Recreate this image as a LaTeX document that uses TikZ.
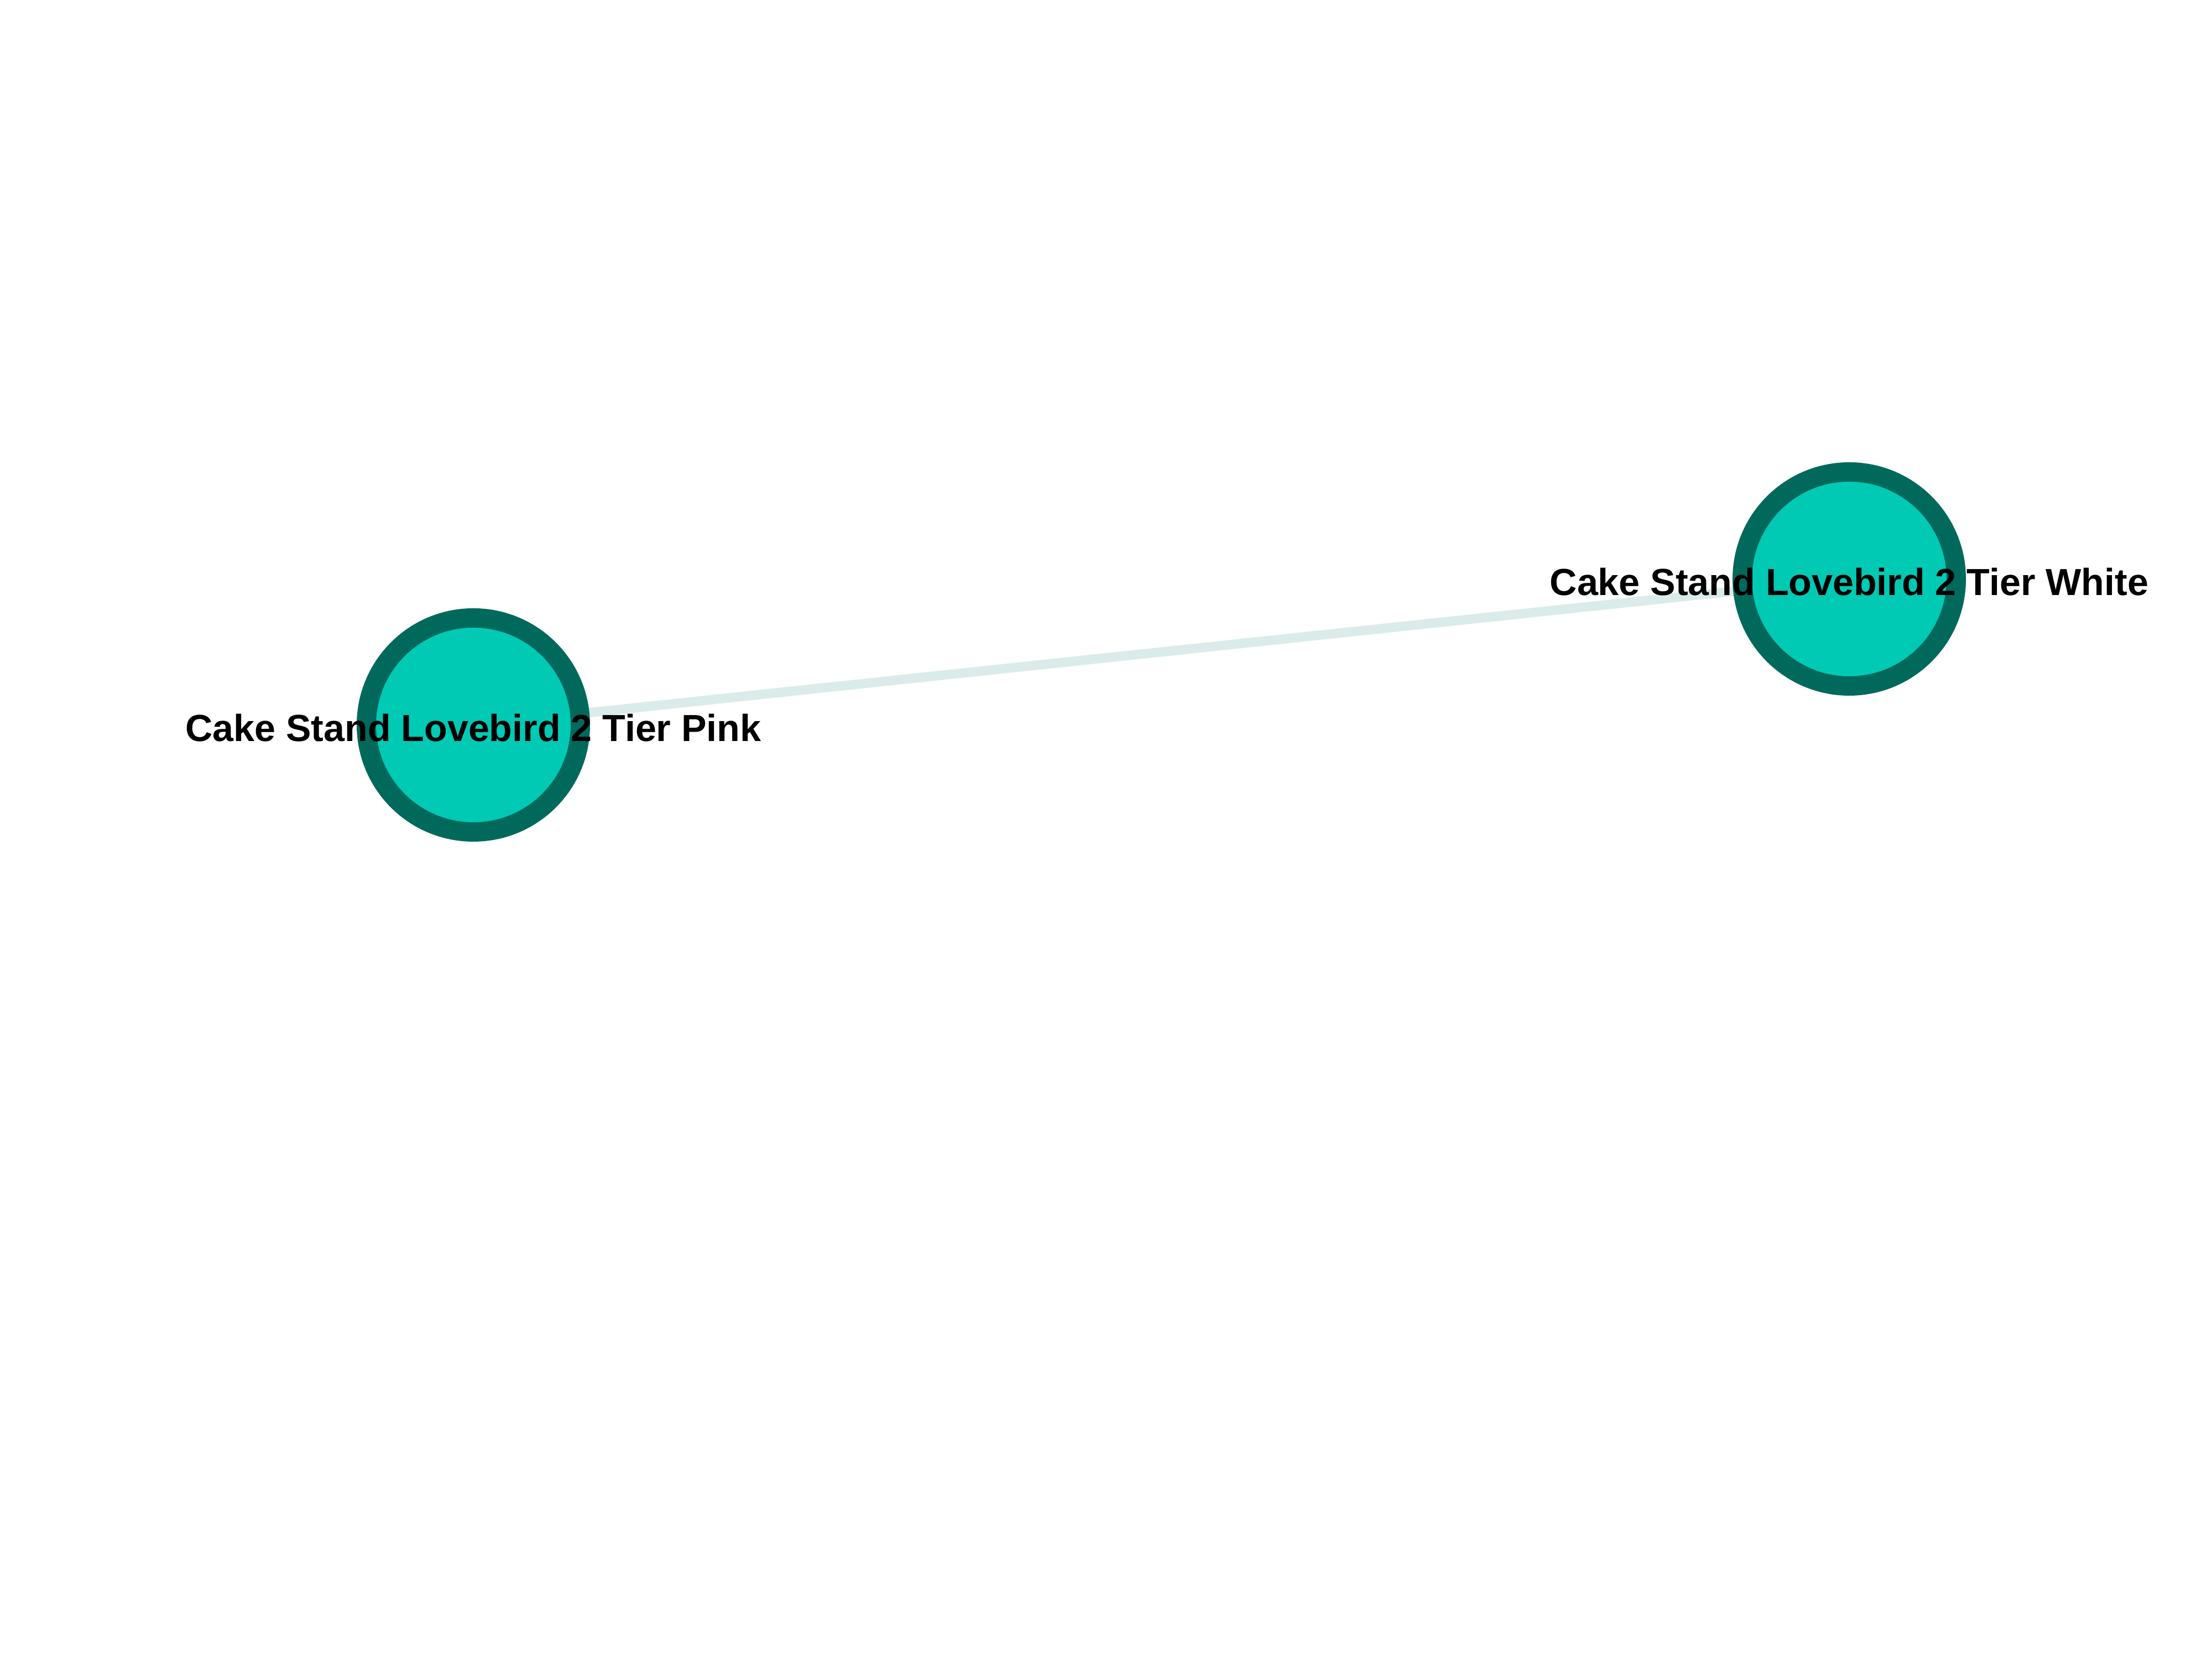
\documentclass[tikz,border=0pt]{standalone}
\usepackage{fontspec}
\setmainfont{Liberation Sans}
\usetikzlibrary{backgrounds}
\definecolor{nodefill}{HTML}{00C9B4}
\definecolor{nodeedge}{HTML}{00695B}
\definecolor{linkcol}{HTML}{DAECEA}

\begin{document}
\begin{tikzpicture}[
  item/.style={circle,fill=nodefill,draw=nodeedge,line width=3.5mm,minimum size=3.87cm,inner sep=0pt},
  itemlab/.style={font=\fontsize{19.4}{22}\selectfont\bfseries,inner sep=0pt,yshift=-0.05cm},
  link/.style={linkcol,line width=1.7mm}]
\useasboundingbox (0,0) rectangle (40,30);
\node[item] (pink) at (8.56,16.89) {};
\node[item] (white) at (33.44,19.53) {};
\begin{scope}[on background layer]
\draw[link] (pink) -- (white);
\end{scope}
\node[itemlab] (pinklab) at (pink) {Cake Stand Lovebird 2 Tier Pink};
\node[itemlab] (whitelab) at (white) {Cake Stand Lovebird 2 Tier White};
\end{tikzpicture}
\end{document}
